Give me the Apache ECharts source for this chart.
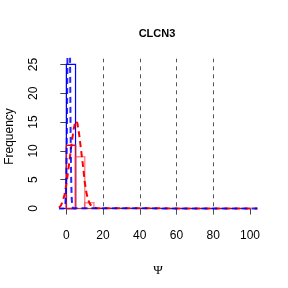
<!DOCTYPE html>
<html>
<head>
<meta charset="utf-8">
<script src="https://cdn.jsdelivr.net/npm/echarts@6/dist/echarts.min.js"></script>
<style>
  html, body { margin: 0; padding: 0; background: #fff; }
  #chart { width: 288px; height: 288px; }
</style>
</head>
<body>
<div id="chart"></div>
<script>
// histogram bins: [from, to, count]
var blueBins = [[0, 5, 25]]
var redBins = [[0, 5, 11], [5, 10, 9], [10, 15, 1]]

// density curves: [psi, frequency]
var blueDensity = [
  [-4, 0], [-1.2, 0], [-0.9, 0.2], [-0.6, 0.6], [-0.3, 2.0], [0, 5.6],
  [0.3, 13.5], [0.6, 26], [0.9, 40], [1.3, 50], [1.7, 41], [2.0, 27],
  [2.3, 14], [2.6, 5.5], [2.9, 1.8], [3.2, 0.5], [3.6, 0.05], [4, 0], [104, 0]
]
var redDensity = [
  [-4, 0.15], [-3, 0.5], [-2, 1.2], [-1, 2.4], [0, 4.2], [1, 6.5], [2, 9.0],
  [3, 11.6], [4, 13.8], [5, 15.2], [5.5, 15.4], [6, 14.8], [7, 12.8], [8, 10.2],
  [9, 7.6], [10, 4.6], [11, 2.6], [12, 1.4], [13, 0.7], [14, 0.35], [15, 0.15],
  [16, 0.05], [17, 0], [104, 0]
]
var vLines = [20, 40, 60, 80]

var xTicks = { min: 0, max: 100, interval: 20 }
var yTicks = { min: 0, max: 25, interval: 5 }

var chart = echarts.init(document.getElementById('chart'))

function histItem(color, overlapColor, width) {
  return function (params, api) {
    var x0 = api.value(0)
    var x1 = api.value(1)
    var p0 = api.coord([x0, api.value(2)])
    var p1 = api.coord([x1, 0])
    // where a bar sits inside a filled blue bin it reads darker
    var inside = overlapColor && blueBins.some(function (b) { return x0 >= b[0] && x1 <= b[1] })
    return {
      type: 'rect',
      shape: { x: p0[0], y: p0[1], width: p1[0] - p0[0], height: p1[1] - p0[1] },
      style: { fill: 'none', stroke: inside ? overlapColor : color, lineWidth: width }
    }
  }
}

var option = {
  animation: false,
  title: {
    text: 'CLCN3',
    left: 152,
    top: 23,
    textAlign: 'center',
    textStyle: { fontFamily: 'Liberation Sans', fontSize: 11, fontWeight: 'bold', color: '#000' }
  },
  // grid 0 = plotting region, grid 1 = tick range (0..100, 0..25)
  grid: [
    { left: 59, right: 30.6, top: 58.7, bottom: 73.7, outerBoundsMode: 'none' },
    { left: 66.3, right: 38, top: 64.5, bottom: 79.5, outerBoundsMode: 'none' }
  ],
  xAxis: [
    { gridIndex: 0, type: 'value', min: -4, max: 104, show: false },
    {
      gridIndex: 1,
      type: 'value',
      min: xTicks.min,
      max: xTicks.max,
      interval: xTicks.interval,
      offset: 5.8,
      name: 'Ψ',
      nameLocation: 'middle',
      nameGap: 50,
      nameTextStyle: { fontFamily: 'Liberation Serif', fontSize: 13, color: '#000' },
      axisLine: { show: true, lineStyle: { color: '#444', width: 1 } },
      axisTick: { show: true, length: 6, lineStyle: { color: '#444' } },
      axisLabel: { margin: 15, fontFamily: 'Liberation Sans', fontSize: 12, color: '#000' },
      splitLine: { show: false }
    }
  ],
  yAxis: [
    { gridIndex: 0, type: 'value', min: -1, max: 26, show: false },
    {
      gridIndex: 1,
      type: 'value',
      min: yTicks.min,
      max: yTicks.max,
      interval: yTicks.interval,
      offset: 7.3,
      name: 'Frequency',
      nameLocation: 'middle',
      nameGap: 43,
      nameTextStyle: { fontFamily: 'Liberation Sans', fontSize: 12, color: '#000' },
      axisLine: { show: true, lineStyle: { color: '#444', width: 1 } },
      axisTick: { show: true, length: 6, lineStyle: { color: '#444' } },
      axisLabel: { rotate: 90, margin: 19, fontFamily: 'Liberation Sans', fontSize: 12, color: '#000' },
      splitLine: { show: false }
    }
  ],
  series: [
    {
      name: 'blue hist',
      type: 'custom',
      xAxisIndex: 0,
      yAxisIndex: 0,
      clip: true,
      renderItem: histItem('#0000ff', null, 1.2),
      encode: { x: [0, 1], y: 2 },
      data: blueBins,
      markLine: {
        silent: true,
        symbol: 'none',
        label: { show: false },
        lineStyle: { color: '#555', type: [4, 4], width: 1 },
        data: vLines.map(function (v) { return { xAxis: v } })
      }
    },
    {
      name: 'red hist',
      type: 'custom',
      xAxisIndex: 0,
      yAxisIndex: 0,
      clip: true,
      renderItem: histItem('rgba(255,60,60,0.6)', '#c8103c', 1.5),
      encode: { x: [0, 1], y: 2 },
      data: redBins
    },
    {
      name: 'red density',
      type: 'line',
      xAxisIndex: 0,
      yAxisIndex: 0,
      showSymbol: false,
      clip: true,
      lineStyle: { color: '#ff0000', width: 2, type: [6, 4] },
      data: redDensity
    },
    {
      name: 'blue density',
      type: 'line',
      xAxisIndex: 0,
      yAxisIndex: 0,
      showSymbol: false,
      clip: true,
      lineStyle: { color: 'rgba(0,0,255,0.85)', width: 2, type: [6, 4] },
      data: blueDensity
    }
  ]
}
chart.setOption(option)
</script>
</body>
</html>
